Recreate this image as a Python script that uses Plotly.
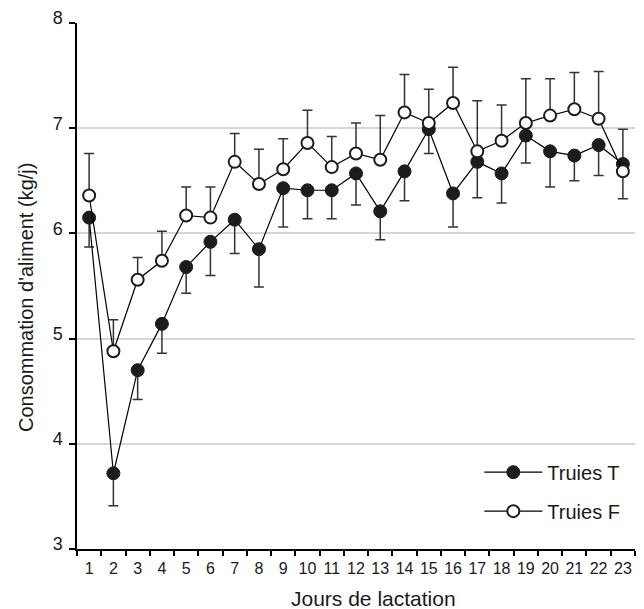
import plotly.graph_objects as go

days = [str(d) for d in range(1, 24)]

# Truies T (filled)
t_mean = [6.15, 3.72, 4.70, 5.14, 5.68, 5.92, 6.13, 5.85, 6.43, 6.41, 6.41, 6.57,
          6.21, 6.59, 6.99, 6.38, 6.68, 6.57, 6.93, 6.78, 6.74, 6.84, 6.66]
t_err_up = [0, 0, 0, 0, 0, 0, 0, 0, 0, 0, 0, 0,
            0, 0, 0, 0, 0, 0, 0, 0, 0, 0, 0.33]
t_err_down = [0.28, 0.31, 0.28, 0.28, 0.25, 0.32, 0.32, 0.36, 0.37, 0.27, 0.27, 0.30,
              0.27, 0.28, 0.23, 0.32, 0.34, 0.28, 0.26, 0.34, 0.24, 0.29, 0]

# Truies F (open)
f_mean = [6.36, 4.88, 5.56, 5.74, 6.17, 6.15, 6.68, 6.47, 6.61, 6.86, 6.63, 6.76,
          6.70, 7.15, 7.05, 7.24, 6.78, 6.88, 7.05, 7.12, 7.18, 7.09, 6.59]
f_err_up = [0.40, 0.30, 0.21, 0.28, 0.27, 0.29, 0.27, 0.33, 0.29, 0.31, 0.29, 0.29,
            0.42, 0.36, 0.32, 0.34, 0.48, 0.34, 0.42, 0.35, 0.35, 0.45, 0]
f_err_down = [0, 0, 0, 0, 0, 0, 0, 0, 0, 0, 0, 0,
              0, 0, 0, 0, 0, 0, 0, 0, 0, 0, 0.26]

y_ticks = [3, 4, 5, 6, 7, 8]

font_family = "Liberation Sans, Arial, sans-serif"
dark = "#1c1c1e"

fig = go.Figure()

fig.add_trace(go.Scatter(
    x=days, y=t_mean, name="Truies T", mode="lines+markers",
    legendgroup="T",
    line=dict(color="black", width=1.2),
    marker=dict(symbol="circle", size=13, color=dark, line=dict(color=dark, width=1)),
    error_y=dict(type="data", symmetric=False, array=t_err_up, arrayminus=t_err_down,
                 color="#333333", thickness=1.5, width=5),
))

fig.add_trace(go.Scatter(
    x=days, y=f_mean, name="Truies F", mode="lines+markers",
    legendgroup="F",
    line=dict(color="black", width=1.2),
    marker=dict(symbol="circle", size=12, color="white", line=dict(color=dark, width=2)),
    error_y=dict(type="data", symmetric=False, array=f_err_up, arrayminus=f_err_down,
                 color="#333333", thickness=1.5, width=5),
))

# page body has an 8px margin: figure is offset by 8px right/down
fig.update_layout(
    width=636, height=609,
    margin=dict(l=69, r=9, t=15, b=68),
    paper_bgcolor="white", plot_bgcolor="white",
    font=dict(family=font_family, color="#1a1a1a"),
    showlegend=True,
    legend=dict(
        x=0.721, y=0.109, xanchor="left", yanchor="middle",
        bgcolor="rgba(0,0,0,0)", font=dict(size=20, family=font_family),
        traceorder="grouped", tracegroupgap=10, itemwidth=58,
    ),
    xaxis=dict(
        type="category", tickson="boundaries", ticks="outside", ticklen=5,
        tickcolor="black", tickwidth=1.5, tickangle=0, automargin=False,
        showline=True, linecolor="black", linewidth=1.5, showgrid=False,
        tickfont=dict(size=16), range=[-0.5, 22.5], ticklabelstandoff=4,
    ),
    yaxis=dict(
        range=[3, 8], tickvals=y_ticks, ticktext=[str(v) for v in y_ticks],
        ticks="outside", ticklen=6, tickcolor="black", tickwidth=1.5, automargin=False,
        showline=True, linecolor="black", linewidth=1.5,
        showgrid=True, gridcolor="#d6d6d6", gridwidth=1.5, zeroline=False,
        tickfont=dict(size=18), ticklabelshift=-5, ticklabelstandoff=3,
    ),
    annotations=[
        dict(text="Jours de lactation", xref="paper", yref="paper",
             x=0.532, y=-0.095, xanchor="center", yanchor="middle",
             showarrow=False, font=dict(size=21, family=font_family, color="#1a1a1a")),
        dict(text="Consommation d'aliment (kg/j)", xref="paper", yref="paper",
             x=-0.0914, y=0.479, xanchor="center", yanchor="middle", textangle=-90,
             showarrow=False, font=dict(size=20, family=font_family, color="#1a1a1a")),
    ],
)

fig.write_html("out.html")
